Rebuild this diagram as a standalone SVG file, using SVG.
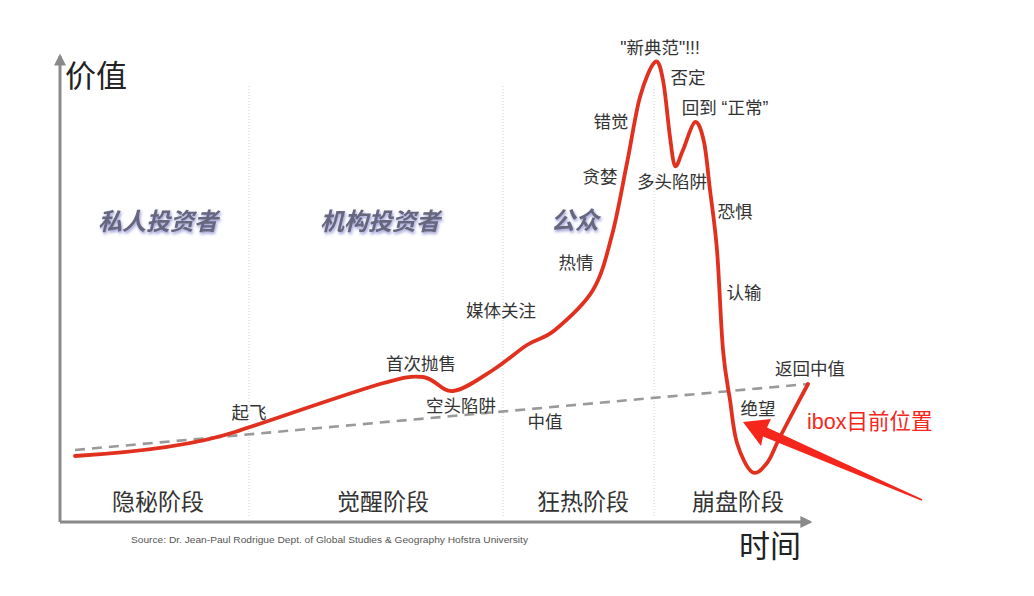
<svg xmlns="http://www.w3.org/2000/svg" width="1034" height="596" viewBox="0 0 1034 596">
<style>
.lbl{font-family:"Liberation Sans","Noto Sans CJK SC",sans-serif;font-size:17.5px;fill:#333;text-anchor:middle}
.stage{font-family:"Liberation Sans","Noto Sans CJK SC",sans-serif;font-size:23px;fill:#333;text-anchor:middle}
.grp{font-family:"Liberation Sans","Noto Sans CJK SC",sans-serif;font-size:24px;font-weight:bold;font-style:italic;fill:#66667c;text-anchor:middle}
.axl{font-family:"Liberation Sans","Noto Sans CJK SC",sans-serif;font-size:31px;fill:#222}
.sep{stroke:#d4d4d4;stroke-width:1;stroke-dasharray:1 2;fill:none}
.axis{stroke:#8a8a8a;stroke-width:3;fill:none}
</style>
<defs>
<marker id="ah" viewBox="0 0 10 10" refX="8" refY="5" markerWidth="4" markerHeight="4" orient="auto" markerUnits="strokeWidth">
<path d="M0,0 L10,5 L0,10 z" fill="#8a8a8a"/>
</marker>
<filter id="sh" x="-10%" y="-30%" width="120%" height="160%">
<feGaussianBlur in="SourceAlpha" stdDeviation="1.6" result="b"/>
<feOffset dx="1" dy="1.5" in="b" result="o"/>
<feFlood flood-color="#8c8cd0" flood-opacity="0.9"/>
<feComposite in2="o" operator="in" result="s"/>
<feMerge><feMergeNode in="s"/><feMergeNode in="SourceGraphic"/></feMerge>
</filter>
</defs>
<rect width="1034" height="596" fill="#fff"/>
<g id="separators">
<line class="sep" x1="249" y1="86" x2="249" y2="516"/>
<line class="sep" x1="503" y1="86" x2="503" y2="516"/>
<line class="sep" x1="654" y1="86" x2="654" y2="516"/>
</g>
<g id="axes">
<line class="axis" x1="60" y1="522" x2="60" y2="56" marker-end="url(#ah)"/>
<line class="axis" x1="60" y1="522" x2="810" y2="522" marker-end="url(#ah)"/>
<text class="axl" x="65" y="87">价值</text>
<text class="axl" x="739" y="557">时间</text>
</g>
<g id="groups">
<text class="grp" x="158" y="230" filter="url(#sh)">私人投资者</text>
<text class="grp" x="380" y="230" filter="url(#sh)">机构投资者</text>
<text class="grp" x="575" y="229" filter="url(#sh)">公众</text>
</g>
<g id="stages">
<text class="stage" x="158" y="510">隐秘阶段</text>
<text class="stage" x="383" y="510">觉醒阶段</text>
<text class="stage" x="583" y="510">狂热阶段</text>
<text class="stage" x="738" y="510">崩盘阶段</text>
</g>
<text x="131" y="543" font-family="Liberation Sans,sans-serif" font-size="8.5" fill="#555" textLength="397" lengthAdjust="spacingAndGlyphs">Source: Dr. Jean-Paul Rodrigue Dept. of Global Studies &amp; Geography Hofstra University</text>
<g id="connectors">
<line id="median" x1="75" y1="450" x2="808" y2="384" stroke="#9a9a9a" stroke-width="2.6" stroke-dasharray="10 7"/>
<path id="curve" fill="none" stroke="#e2301f" stroke-width="3.8" stroke-linecap="round" stroke-linejoin="round" d="M75,456 C140,452 195,445 235,432 S340,396 380,384 C406,376.8 410.8,375.8 423,377 C435.2,378.2 441.3,392.2 453,391 C464.7,389.8 480.7,377.7 493,370 C505.3,362.3 516.7,351.7 527,345 C537.3,338.3 544,339.2 555,330 C566,320.8 583.5,305.8 593,290 C602.5,274.2 606.3,256.2 612,235 C617.7,213.8 622.3,186 627,163 C631.7,140 635.3,113.8 640,97 C644.7,80.2 651.2,64.8 655,62 C658.8,59.2 660.5,67.5 663,80 C665.5,92.5 668,122.7 670,137 C672,151.3 672.8,163.8 675,166 C677.2,168.2 679.7,157.3 683,150 C686.3,142.7 691.5,123.3 695,122 C698.5,120.7 701.5,130.7 704,142 C706.5,153.3 707.8,172 710,190 C712.2,208 714.8,223.3 717,250 C719.2,276.7 720.8,325 723,350 C725.2,375 727.7,384.5 730,400 C732.3,415.5 733.3,431 737,443 C740.7,455 747,468.7 752,472 C757,475.3 762.3,468.8 767,463 C771.7,457.2 773.2,450.2 780,437 C786.8,423.8 803.3,392.8 808,384"/>
<polygon id="pointer" fill="#f5261b" points="743,422 771,419 767,427.5 922.4,499.3 921.6,500.7 763,436.5 761,446"/>
</g>
<g id="labels">
<text class="lbl" x="660" y="54">"新典范"!!!</text>
<text class="lbl" x="688" y="84">否定</text>
<text class="lbl" x="725" y="114">回到 “正常”</text>
<text class="lbl" x="611" y="128">错觉</text>
<text class="lbl" x="600" y="183">贪婪</text>
<text class="lbl" x="672" y="188">多头陷阱</text>
<text class="lbl" x="735" y="218">恐惧</text>
<text class="lbl" x="576" y="269">热情</text>
<text class="lbl" x="744" y="299">认输</text>
<text class="lbl" x="501" y="317">媒体关注</text>
<text class="lbl" x="421" y="370">首次抛售</text>
<text class="lbl" x="461" y="412">空头陷阱</text>
<text class="lbl" x="545" y="428">中值</text>
<text class="lbl" x="249" y="419">起飞</text>
<text class="lbl" x="810" y="375">返回中值</text>
<text class="lbl" x="758" y="415">绝望</text>
<text x="807" y="429" font-family="Liberation Sans,Noto Sans CJK SC,sans-serif" font-size="21.5" fill="#f5261b">ibox目前位置</text>
</g>
</svg>
